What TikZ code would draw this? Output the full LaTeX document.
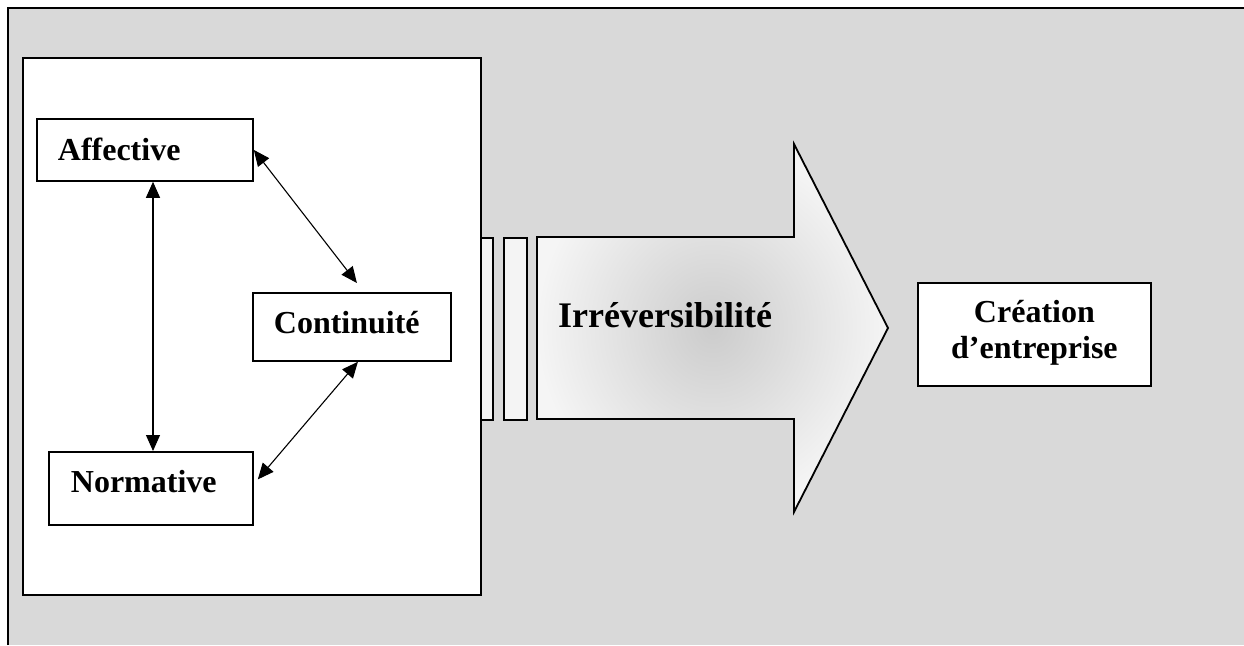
\documentclass[tikz,border=0pt]{standalone}
\usepackage{fontspec}
\setmainfont{Liberation Serif}
\usetikzlibrary{arrows.meta}
\definecolor{panel}{HTML}{D9D9D9}
\definecolor{strip}{HTML}{F4F4F4}
\begin{document}
\begin{tikzpicture}[x=1pt,y=-1pt,
  frame/.style={line width=2pt},
  box/.style={draw, line width=1.8pt, fill=white, anchor=north west,
    font=\fontsize{32}{36}\selectfont\bfseries, inner xsep=21pt,
    align=left, text height=22pt},
  stripbox/.style={draw, line width=1.8pt, fill=strip, anchor=north west,
    minimum height=182pt, inner sep=0pt},
  dbl/.style={line width=1.1pt,
    {Triangle[length=16pt,width=14pt]}-{Triangle[length=16pt,width=14pt]}}
]
\useasboundingbox (0,0) rectangle (1244,645);
% grey panel with its top and left rules
\fill[panel] (8,8) rectangle (1244,645);
\draw[frame] (8,645) -- (8,8) -- (1244,8);

% white group holding the three components
\node[draw, line width=1.8pt, fill=white, anchor=north west,
  minimum width=458pt, minimum height=537pt, inner sep=0pt] (group) at (22,57) {};

\node[box, text width=174pt, inner ysep=20pt, text depth=0pt] (aff) at (36,118) {Affective};
\node[box, text width=156pt, inner ysep=19pt, text depth=8pt] (cont) at (252,292) {Continuité};
\node[box, inner xsep=22pt, text width=160pt, inner ysep=19pt, text depth=13pt] (norm) at (48,451) {Normative};

% links between the components
\coordinate (vx) at (153,0);
\draw[dbl] (aff.south -| vx) -- (norm.north -| vx);
\draw[dbl] (aff.east) -- ([shift={(5,-9)}]cont.north);
\draw[dbl] ([xshift=6pt]cont.south) -- ([shift={(4,-9)}]norm.east);

% two thin strips and the big arrow
\node[stripbox, minimum width=12pt] (s1) at (480,237) {};
\node[stripbox, minimum width=23pt] (s2) at (503,237) {};
\shadedraw[line width=1.8pt, line join=miter, inner color=black!20, outer color=black!4]
  (537,237) -- (794,237) -- (794,144) -- (888,328) -- (794,512) -- (794,419) -- (537,419) -- cycle;
\node[anchor=base west, inner sep=0pt, font=\fontsize{36}{40}\selectfont\bfseries] (irr) at (558,327) {Irréversibilité};

% outcome
\node[box, align=center, text width=191pt, inner ysep=18pt, text depth=45pt] (crea) at (917,282) {Création\\d’entreprise};
\end{tikzpicture}
\end{document}
